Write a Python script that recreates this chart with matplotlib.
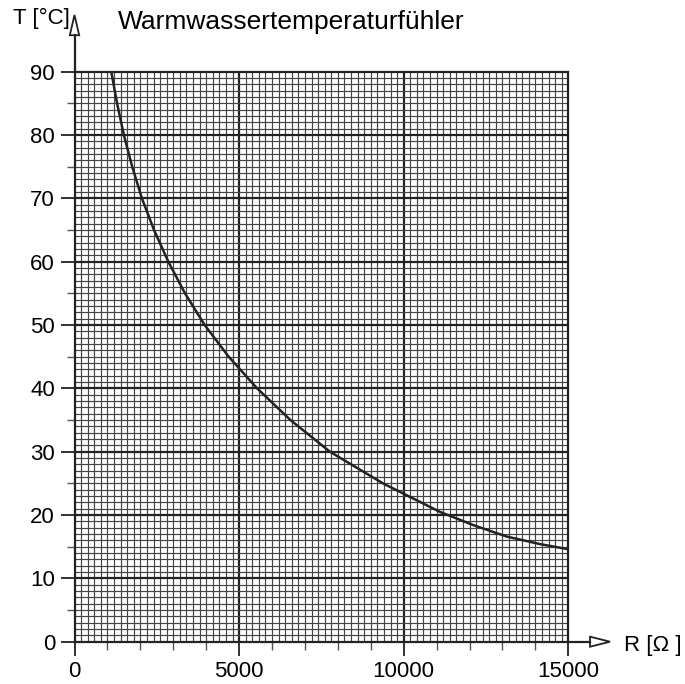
import matplotlib
matplotlib.use("Agg")
import matplotlib.pyplot as plt
from matplotlib.patches import Polygon
from matplotlib.ticker import MultipleLocator, FixedLocator
import numpy as np

plt.rcParams['font.family'] = ['Liberation Sans', 'DejaVu Sans']

# Data
temperature_c = [90, 85, 80, 75, 70, 65, 60, 55, 50, 45, 40, 35, 30, 25, 20.5,
                 18.4, 16.6, 15.4, 14.6]
resistance_ohm = [1117, 1294, 1500, 1753, 2048, 2416, 2850, 3357, 3955, 4684,
                  5547, 6560, 7758, 9370, 11100, 12120, 13130, 14150, 15000]

x_ticks = [0, 5000, 10000, 15000]
x_tick_labels = ["0", "5000", "10000", "15000"]
y_ticks = [0, 10, 20, 30, 40, 50, 60, 70, 80, 90]
y_tick_labels = [str(v) for v in y_ticks]
title = "Warmwassertemperaturfühler"
x_label = "R [Ω ]"
y_label = "T [°C]"

W, H = 685, 684
fig = plt.figure(figsize=(W / 100, H / 100), dpi=100)
L, R_, T_, B = 74.5, 568.3, 71.7, 641.7
ax = fig.add_axes([L / W, 1 - B / H, (R_ - L) / W, (B - T_) / H])
ax.set_xlim(0, 15000)
ax.set_ylim(0, 90)

# fine grid
for xv in np.arange(200, 15000, 200):
    major = (xv % 5000 == 0)
    ax.axvline(xv, color='#222222' if major else '#444444',
               lw=1.6 if major else 0.85, zorder=1)
for yv in np.arange(1, 90, 1):
    major = (yv % 10 == 0)
    ax.axhline(yv, color='#222222' if major else '#444444',
               lw=1.6 if major else 0.85, zorder=1)

ax.plot(resistance_ohm, temperature_c, color='#222222', lw=1.8, zorder=3,
        solid_capstyle='butt', solid_joinstyle='round')

for s in ax.spines.values():
    s.set_linewidth(1.6)
    s.set_color('#222222')

ax.xaxis.set_major_locator(FixedLocator(x_ticks))
ax.set_xticklabels(x_tick_labels)
ax.xaxis.set_minor_locator(MultipleLocator(1000))
ax.yaxis.set_major_locator(FixedLocator(y_ticks))
ax.set_yticklabels(y_tick_labels)
ax.yaxis.set_minor_locator(MultipleLocator(5))
ax.tick_params(which='major', length=10, width=1.3, color='#222222', labelsize=16, pad=4)
ax.tick_params(which='minor', length=6, width=1.0, color='#555555')

# axis arrows
ax.plot([1.0, 1.044], [0, 0], transform=ax.transAxes, color='#222222', lw=1.6, clip_on=False)
ax.add_patch(Polygon([[1.044, -0.0088], [1.0845, 0], [1.044, 0.0088]], closed=True,
                     transform=ax.transAxes, fill=False, edgecolor='#222222', lw=1.3, clip_on=False))
ax.plot([0, 0], [1.0, 1.064], transform=ax.transAxes, color='#222222', lw=1.6, clip_on=False)
ax.add_patch(Polygon([[-0.0095, 1.064], [0, 1.0995], [0.0095, 1.064]], closed=True,
                     transform=ax.transAxes, fill=False, edgecolor='#222222', lw=1.3, clip_on=False))

fig.text(118 / W, 1 - 22 / H, title, fontsize=19, ha='left', va='center')
fig.text(70 / W, 1 - 18 / H, y_label, fontsize=16, ha='right', va='center')
fig.text(624 / W, 1 - 645 / H, x_label, fontsize=16, ha='left', va='center')

fig.savefig("out.png", dpi=100, facecolor='white')
